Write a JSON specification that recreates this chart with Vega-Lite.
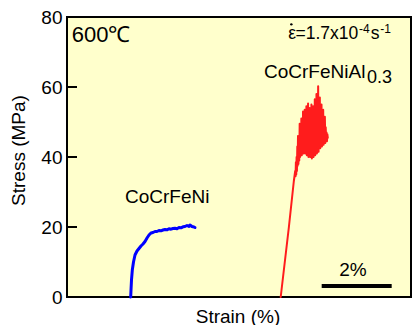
{
  "$schema": "https://vega.github.io/schema/vega-lite/v6.json",
  "width": 344,
  "height": 280,
  "autosize": {"type": "none"},
  "padding": {"left": 67, "top": 17, "right": 1, "bottom": 28},
  "background": "white",
  "config": {
    "font": "Liberation Sans",
    "view": {"fill": "#FFFFCC", "stroke": "black", "strokeWidth": 2},
    "text": {"font": "Liberation Sans", "color": "black"}
  },
  "datasets": {
    "curves": [
      {"series": "CoCrFeNi", "strain": 1.820, "stress": 0},
      {"series": "CoCrFeNi", "strain": 1.829, "stress": 2.0},
      {"series": "CoCrFeNi", "strain": 1.843, "stress": 4.86},
      {"series": "CoCrFeNi", "strain": 1.866, "stress": 7.71},
      {"series": "CoCrFeNi", "strain": 1.900, "stress": 10.0},
      {"series": "CoCrFeNi", "strain": 1.943, "stress": 12.0},
      {"series": "CoCrFeNi", "strain": 2.000, "stress": 13.14},
      {"series": "CoCrFeNi", "strain": 2.057, "stress": 13.86},
      {"series": "CoCrFeNi", "strain": 2.114, "stress": 14.57},
      {"series": "CoCrFeNi", "strain": 2.171, "stress": 15.14},
      {"series": "CoCrFeNi", "strain": 2.229, "stress": 15.86},
      {"series": "CoCrFeNi", "strain": 2.286, "stress": 16.86},
      {"series": "CoCrFeNi", "strain": 2.343, "stress": 17.71},
      {"series": "CoCrFeNi", "strain": 2.400, "stress": 18.29},
      {"series": "CoCrFeNi", "strain": 2.457, "stress": 18.43},
      {"series": "CoCrFeNi", "strain": 2.514, "stress": 18.71},
      {"series": "CoCrFeNi", "strain": 2.571, "stress": 18.71},
      {"series": "CoCrFeNi", "strain": 2.629, "stress": 19.0},
      {"series": "CoCrFeNi", "strain": 2.686, "stress": 18.91},
      {"series": "CoCrFeNi", "strain": 2.743, "stress": 19.14},
      {"series": "CoCrFeNi", "strain": 2.800, "stress": 19.29},
      {"series": "CoCrFeNi", "strain": 2.857, "stress": 19.2},
      {"series": "CoCrFeNi", "strain": 2.914, "stress": 19.49},
      {"series": "CoCrFeNi", "strain": 2.971, "stress": 19.37},
      {"series": "CoCrFeNi", "strain": 3.029, "stress": 19.57},
      {"series": "CoCrFeNi", "strain": 3.086, "stress": 19.63},
      {"series": "CoCrFeNi", "strain": 3.143, "stress": 19.51},
      {"series": "CoCrFeNi", "strain": 3.200, "stress": 19.86},
      {"series": "CoCrFeNi", "strain": 3.257, "stress": 19.77},
      {"series": "CoCrFeNi", "strain": 3.314, "stress": 20.06},
      {"series": "CoCrFeNi", "strain": 3.371, "stress": 20.14},
      {"series": "CoCrFeNi", "strain": 3.429, "stress": 20.43},
      {"series": "CoCrFeNi", "strain": 3.486, "stress": 20.14},
      {"series": "CoCrFeNi", "strain": 3.514, "stress": 20.57},
      {"series": "CoCrFeNi", "strain": 3.571, "stress": 20.14},
      {"series": "CoCrFeNi", "strain": 3.629, "stress": 20.0},
      {"series": "CoCrFeNi", "strain": 3.657, "stress": 19.86},
      {"series": "CoCrFeNiAl0.3", "strain": 6.106, "stress": 0},
      {"series": "CoCrFeNiAl0.3", "strain": 6.340, "stress": 20.0},
      {"series": "CoCrFeNiAl0.3", "strain": 6.480, "stress": 33.0},
      {"series": "CoCrFeNiAl0.3", "strain": 6.520, "stress": 36.0},
      {"series": "CoCrFeNiAl0.3", "strain": 6.530, "stress": 34.5},
      {"series": "CoCrFeNiAl0.3", "strain": 6.540, "stress": 38.5},
      {"series": "CoCrFeNiAl0.3", "strain": 6.550, "stress": 35.0},
      {"series": "CoCrFeNiAl0.3", "strain": 6.560, "stress": 40.0},
      {"series": "CoCrFeNiAl0.3", "strain": 6.570, "stress": 36.0},
      {"series": "CoCrFeNiAl0.3", "strain": 6.580, "stress": 43.0},
      {"series": "CoCrFeNiAl0.3", "strain": 6.590, "stress": 37.5},
      {"series": "CoCrFeNiAl0.3", "strain": 6.600, "stress": 46.0},
      {"series": "CoCrFeNiAl0.3", "strain": 6.612, "stress": 38.0},
      {"series": "CoCrFeNiAl0.3", "strain": 6.624, "stress": 44.0},
      {"series": "CoCrFeNiAl0.3", "strain": 6.636, "stress": 39.0},
      {"series": "CoCrFeNiAl0.3", "strain": 6.648, "stress": 49.5},
      {"series": "CoCrFeNiAl0.3", "strain": 6.660, "stress": 40.0},
      {"series": "CoCrFeNiAl0.3", "strain": 6.672, "stress": 47.0},
      {"series": "CoCrFeNiAl0.3", "strain": 6.684, "stress": 41.5},
      {"series": "CoCrFeNiAl0.3", "strain": 6.696, "stress": 51.0},
      {"series": "CoCrFeNiAl0.3", "strain": 6.708, "stress": 40.5},
      {"series": "CoCrFeNiAl0.3", "strain": 6.720, "stress": 48.0},
      {"series": "CoCrFeNiAl0.3", "strain": 6.732, "stress": 42.0},
      {"series": "CoCrFeNiAl0.3", "strain": 6.744, "stress": 53.0},
      {"series": "CoCrFeNiAl0.3", "strain": 6.756, "stress": 41.0},
      {"series": "CoCrFeNiAl0.3", "strain": 6.768, "stress": 50.0},
      {"series": "CoCrFeNiAl0.3", "strain": 6.780, "stress": 43.5},
      {"series": "CoCrFeNiAl0.3", "strain": 6.792, "stress": 53.5},
      {"series": "CoCrFeNiAl0.3", "strain": 6.804, "stress": 41.0},
      {"series": "CoCrFeNiAl0.3", "strain": 6.816, "stress": 49.0},
      {"series": "CoCrFeNiAl0.3", "strain": 6.828, "stress": 44.0},
      {"series": "CoCrFeNiAl0.3", "strain": 6.840, "stress": 54.5},
      {"series": "CoCrFeNiAl0.3", "strain": 6.852, "stress": 40.5},
      {"series": "CoCrFeNiAl0.3", "strain": 6.864, "stress": 51.0},
      {"series": "CoCrFeNiAl0.3", "strain": 6.876, "stress": 45.0},
      {"series": "CoCrFeNiAl0.3", "strain": 6.888, "stress": 55.3},
      {"series": "CoCrFeNiAl0.3", "strain": 6.900, "stress": 40.0},
      {"series": "CoCrFeNiAl0.3", "strain": 6.912, "stress": 52.0},
      {"series": "CoCrFeNiAl0.3", "strain": 6.924, "stress": 43.0},
      {"series": "CoCrFeNiAl0.3", "strain": 6.936, "stress": 54.0},
      {"series": "CoCrFeNiAl0.3", "strain": 6.948, "stress": 40.0},
      {"series": "CoCrFeNiAl0.3", "strain": 6.960, "stress": 50.5},
      {"series": "CoCrFeNiAl0.3", "strain": 6.972, "stress": 44.5},
      {"series": "CoCrFeNiAl0.3", "strain": 6.984, "stress": 55.0},
      {"series": "CoCrFeNiAl0.3", "strain": 6.996, "stress": 39.6},
      {"series": "CoCrFeNiAl0.3", "strain": 7.008, "stress": 52.0},
      {"series": "CoCrFeNiAl0.3", "strain": 7.020, "stress": 42.5},
      {"series": "CoCrFeNiAl0.3", "strain": 7.032, "stress": 54.5},
      {"series": "CoCrFeNiAl0.3", "strain": 7.044, "stress": 40.0},
      {"series": "CoCrFeNiAl0.3", "strain": 7.056, "stress": 51.0},
      {"series": "CoCrFeNiAl0.3", "strain": 7.068, "stress": 45.0},
      {"series": "CoCrFeNiAl0.3", "strain": 7.080, "stress": 56.5},
      {"series": "CoCrFeNiAl0.3", "strain": 7.092, "stress": 40.5},
      {"series": "CoCrFeNiAl0.3", "strain": 7.104, "stress": 53.0},
      {"series": "CoCrFeNiAl0.3", "strain": 7.116, "stress": 44.0},
      {"series": "CoCrFeNiAl0.3", "strain": 7.128, "stress": 58.0},
      {"series": "CoCrFeNiAl0.3", "strain": 7.140, "stress": 41.0},
      {"series": "CoCrFeNiAl0.3", "strain": 7.152, "stress": 55.0},
      {"series": "CoCrFeNiAl0.3", "strain": 7.164, "stress": 46.0},
      {"series": "CoCrFeNiAl0.3", "strain": 7.176, "stress": 60.2},
      {"series": "CoCrFeNiAl0.3", "strain": 7.188, "stress": 41.5},
      {"series": "CoCrFeNiAl0.3", "strain": 7.200, "stress": 54.0},
      {"series": "CoCrFeNiAl0.3", "strain": 7.212, "stress": 47.0},
      {"series": "CoCrFeNiAl0.3", "strain": 7.224, "stress": 57.0},
      {"series": "CoCrFeNiAl0.3", "strain": 7.236, "stress": 42.5},
      {"series": "CoCrFeNiAl0.3", "strain": 7.248, "stress": 52.5},
      {"series": "CoCrFeNiAl0.3", "strain": 7.260, "stress": 46.5},
      {"series": "CoCrFeNiAl0.3", "strain": 7.272, "stress": 55.0},
      {"series": "CoCrFeNiAl0.3", "strain": 7.284, "stress": 43.0},
      {"series": "CoCrFeNiAl0.3", "strain": 7.296, "stress": 51.0},
      {"series": "CoCrFeNiAl0.3", "strain": 7.308, "stress": 47.5},
      {"series": "CoCrFeNiAl0.3", "strain": 7.320, "stress": 53.5},
      {"series": "CoCrFeNiAl0.3", "strain": 7.332, "stress": 43.5},
      {"series": "CoCrFeNiAl0.3", "strain": 7.344, "stress": 50.0},
      {"series": "CoCrFeNiAl0.3", "strain": 7.356, "stress": 46.0},
      {"series": "CoCrFeNiAl0.3", "strain": 7.368, "stress": 51.5},
      {"series": "CoCrFeNiAl0.3", "strain": 7.380, "stress": 44.0},
      {"series": "CoCrFeNiAl0.3", "strain": 7.392, "stress": 48.5},
      {"series": "CoCrFeNiAl0.3", "strain": 7.404, "stress": 45.0},
      {"series": "CoCrFeNiAl0.3", "strain": 7.416, "stress": 47.0},
      {"series": "CoCrFeNiAl0.3", "strain": 7.428, "stress": 44.5},
      {"series": "CoCrFeNiAl0.3", "strain": 7.440, "stress": 46.5},
      {"series": "CoCrFeNiAl0.3", "strain": 7.452, "stress": 45.5}
    ],
    "labels": [
      {"kind": "temp", "text": "600℃", "strain": 0.134, "stress": 72.77},
      {"kind": "rate", "text": "ε", "strain": 6.323, "stress": 73.63},
      {"kind": "rate", "text": "=1.7x10", "strain": 6.529, "stress": 73.63},
      {"kind": "sup", "text": "-4", "strain": 8.34, "stress": 75.51},
      {"kind": "rate", "text": "s", "strain": 8.68, "stress": 73.63},
      {"kind": "sup", "text": "-1", "strain": 8.95, "stress": 75.51},
      {"kind": "name", "text": "CoCrFeNiAl", "strain": 5.629, "stress": 62.49},
      {"kind": "sub", "text": "0.3", "strain": 8.571, "stress": 61.06},
      {"kind": "name", "text": "CoCrFeNi", "strain": 1.657, "stress": 26.77},
      {"kind": "name", "text": "2%", "strain": 7.78, "stress": 6.0}
    ],
    "dot": [
      {"strain": 6.41, "stress": 77.9}
    ],
    "ticks": [
      {"stress": 20},
      {"stress": 40},
      {"stress": 60}
    ],
    "bar": [
      {"from": 7.277, "to": 9.277, "stress": 3.14}
    ]
  },
  "layer": [
    {
      "data": {"name": "curves"},
      "mark": {"type": "line", "strokeJoin": "round", "strokeCap": "round"},
      "encoding": {
        "x": {
          "field": "strain", "type": "quantitative",
          "scale": {"domain": [0, 9.829], "nice": false, "zero": false},
          "axis": {
            "title": "Strain (%)", "labels": false, "ticks": false, "domain": false, "grid": false,
            "titleFont": "Liberation Sans", "titleFontSize": 19, "titleFontWeight": "normal", "titleColor": "black",
            "titleX": 170.5, "titleY": 25, "titleBaseline": "alphabetic"
          }
        },
        "y": {
          "field": "stress", "type": "quantitative",
          "scale": {"domain": [0, 80], "nice": false},
          "axis": {
            "title": "Stress (MPa)", "values": [0, 20, 40, 60, 80], "domain": false, "grid": false,
            "ticks": false,
            "labelFont": "Liberation Sans", "labelFontSize": 19, "labelColor": "black", "labelPadding": 5,
            "titleFont": "Liberation Sans", "titleFontSize": 19, "titleFontWeight": "normal", "titleColor": "black",
            "titleX": -49, "titleY": 133, "titleBaseline": "middle"
          }
        },
        "color": {
          "field": "series", "type": "nominal",
          "scale": {"domain": ["CoCrFeNi", "CoCrFeNiAl0.3"], "range": ["#0000ff", "#ff1c1c"]},
          "legend": null
        },
        "strokeWidth": {
          "field": "series", "type": "nominal",
          "scale": {"type": "ordinal", "domain": ["CoCrFeNi", "CoCrFeNiAl0.3"], "range": [3, 2]},
          "legend": null
        }
      }
    },
    {
      "data": {"name": "ticks"},
      "mark": {"type": "rule", "color": "black", "strokeWidth": 2},
      "encoding": {
        "x": {"datum": 0, "type": "quantitative"},
        "x2": {"datum": 0.286},
        "y": {"field": "stress", "type": "quantitative"}
      }
    },
    {
      "data": {"name": "bar"},
      "mark": {"type": "rule", "color": "black", "strokeWidth": 4},
      "encoding": {
        "x": {"field": "from", "type": "quantitative"},
        "x2": {"field": "to"},
        "y": {"field": "stress", "type": "quantitative"}
      }
    },
    {
      "data": {"name": "dot"},
      "mark": {"type": "point", "filled": true, "shape": "circle", "color": "black", "size": 6, "opacity": 1},
      "encoding": {
        "x": {"field": "strain", "type": "quantitative"},
        "y": {"field": "stress", "type": "quantitative"}
      }
    },
    {
      "data": {"name": "labels"},
      "transform": [{"filter": "datum.kind === 'temp'"}],
      "mark": {"type": "text", "align": "left", "baseline": "alphabetic", "fontSize": 22},
      "encoding": {
        "x": {"field": "strain", "type": "quantitative"},
        "y": {"field": "stress", "type": "quantitative"},
        "text": {"field": "text"}
      }
    },
    {
      "data": {"name": "labels"},
      "transform": [{"filter": "datum.kind === 'rate'"}],
      "mark": {"type": "text", "align": "left", "baseline": "alphabetic", "fontSize": 17.5},
      "encoding": {
        "x": {"field": "strain", "type": "quantitative"},
        "y": {"field": "stress", "type": "quantitative"},
        "text": {"field": "text"}
      }
    },
    {
      "data": {"name": "labels"},
      "transform": [{"filter": "datum.kind === 'sup'"}],
      "mark": {"type": "text", "align": "left", "baseline": "alphabetic", "fontSize": 12},
      "encoding": {
        "x": {"field": "strain", "type": "quantitative"},
        "y": {"field": "stress", "type": "quantitative"},
        "text": {"field": "text"}
      }
    },
    {
      "data": {"name": "labels"},
      "transform": [{"filter": "datum.kind === 'name'"}],
      "mark": {"type": "text", "align": "left", "baseline": "alphabetic", "fontSize": 19},
      "encoding": {
        "x": {"field": "strain", "type": "quantitative"},
        "y": {"field": "stress", "type": "quantitative"},
        "text": {"field": "text"}
      }
    },
    {
      "data": {"name": "labels"},
      "transform": [{"filter": "datum.kind === 'sub'"}],
      "mark": {"type": "text", "align": "left", "baseline": "alphabetic", "fontSize": 18},
      "encoding": {
        "x": {"field": "strain", "type": "quantitative"},
        "y": {"field": "stress", "type": "quantitative"},
        "text": {"field": "text"}
      }
    }
  ]
}
